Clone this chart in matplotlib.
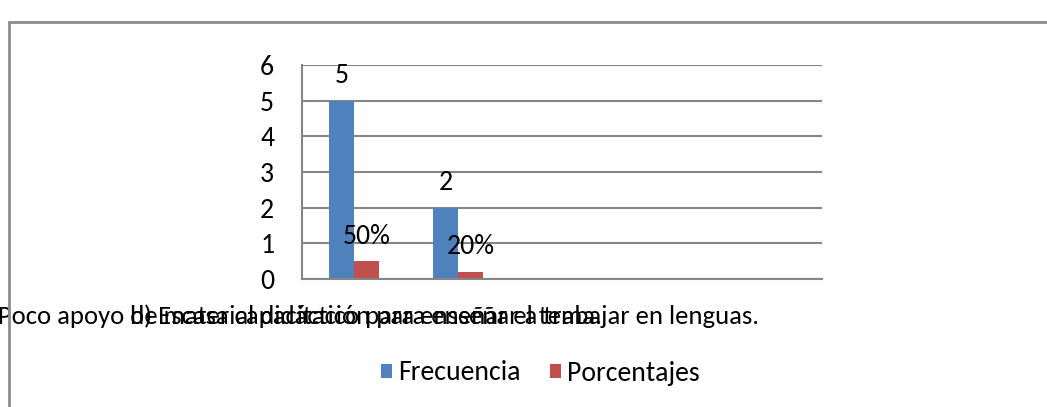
import numpy as np
import matplotlib
matplotlib.use("Agg")
import matplotlib.pyplot as plt
import matplotlib.transforms as mtransforms
from matplotlib.patches import Rectangle

# Data
categorias = [
    "a) Poco apoyo de material didáctico para enseñar el tema.",
    "b) Escasa capacitación para enseñar a trabajar en lenguas.",
    "", "", "",
]
frecuencia = [5, 2]
porcentajes = [0.5, 0.2]
series_names = ["Frecuencia", "Porcentajes"]
colors = ["#4F81BD", "#C0504D"]

plt.rcParams["font.family"] = ["Carlito", "Lato", "DejaVu Sans"]
plt.rcParams["font.size"] = 20

fig = plt.figure(figsize=(10.47, 4.07), dpi=100)
W, H = 1047, 407

# outer chart frame
fig.patches.append(Rectangle((9 / W, -0.05), 1.1, 1 - 22 / H + 0.05,
                             transform=fig.transFigure, fill=False,
                             edgecolor="#8c8c8c", linewidth=2))

ax = fig.add_axes([302 / W, 1 - 279 / H, 520 / W, 214 / H])

x = np.arange(len(frecuencia))
bw = 0.24
b1 = ax.bar(x - bw / 2, frecuencia, bw, color=colors[0], label=series_names[0])
b2 = ax.bar(x + bw / 2, porcentajes, bw, color=colors[1], label=series_names[1])

for rect, v in zip(b1, frecuencia):
    ax.annotate(f"{v}", (rect.get_x() + rect.get_width() / 2, rect.get_height()),
                xytext=(0, 18), textcoords="offset points",
                ha="center", va="center")
for rect, v in zip(b2, porcentajes):
    ax.annotate(f"{v:.0%}", (rect.get_x() + rect.get_width() / 2, rect.get_height()),
                xytext=(0, 18), textcoords="offset points",
                ha="center", va="center")

ax.set_xlim(-0.5, len(categorias) - 0.5)
ax.set_ylim(0, 6)
ax.set_yticks(range(0, 7))
ax.set_xticks(range(len(categorias)))
ax.set_xticklabels(categorias, fontsize=19.2)
ax.tick_params(axis="both", length=0)
ax.tick_params(axis="y", pad=20)
ax.tick_params(axis="x", pad=18)

# long category labels are pushed left in the original (Excel overflow)
label_shift_px = [-68, -13, 0, 0, 0]
for lab, dx in zip(ax.get_xticklabels(), label_shift_px):
    lab.set_transform(lab.get_transform() +
                      mtransforms.ScaledTranslation(dx / 100, 0, fig.dpi_scale_trans))

ax.grid(axis="y", color="#868686", linewidth=1.5)
ax.set_axisbelow(True)
for s in ["top", "right"]:
    ax.spines[s].set_visible(False)
for s in ["left", "bottom"]:
    ax.spines[s].set_color("#868686")
    ax.spines[s].set_linewidth(1.5)

fig.legend(loc="center", bbox_to_anchor=(540 / W, 1 - 373 / H), ncol=2,
           frameon=False, handlelength=0.4, handleheight=0.4,
           handletextpad=0.22, columnspacing=1.05)

fig.savefig("out.png", dpi=100)
